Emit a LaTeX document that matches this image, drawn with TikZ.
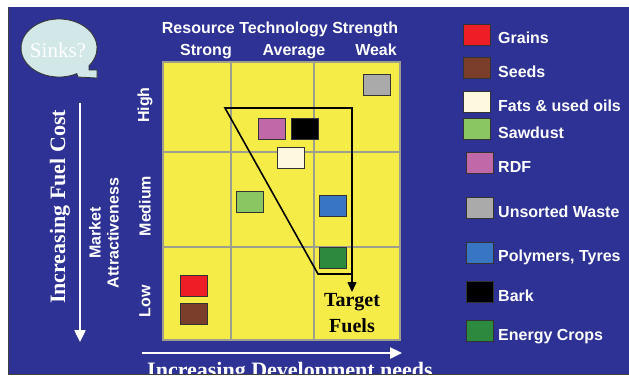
\documentclass[tikz,border=0pt]{standalone}
\usepackage{fontspec}
\setmainfont{Liberation Serif}
\setsansfont{Liberation Sans}
\usetikzlibrary{arrows.meta}

\definecolor{slide}{RGB}{46,50,148}
\definecolor{gridyel}{RGB}{246,236,72}
\definecolor{gridline}{RGB}{158,158,140}
\definecolor{bubble}{RGB}{210,231,231}
\definecolor{grains}{RGB}{237,30,38}
\definecolor{seeds}{RGB}{122,62,42}
\definecolor{fats}{RGB}{253,249,222}
\definecolor{sawdust}{RGB}{138,198,98}
\definecolor{rdf}{RGB}{192,104,168}
\definecolor{waste}{RGB}{170,170,170}
\definecolor{polymers}{RGB}{56,118,196}
\definecolor{bark}{RGB}{0,0,0}
\definecolor{crops}{RGB}{44,138,62}

\begin{document}
\begin{tikzpicture}[x=1pt, y=-1pt,
  fuel/.style={draw=black!80, line width=0.8pt, minimum width=27pt,
    minimum height=21pt, inner sep=0pt},
  wlabel/.style={text=white, inner sep=0pt,
    font=\sffamily\bfseries\fontsize{16}{18}\selectfont},
  wserif/.style={text=white, inner sep=0pt,
    font=\rmfamily\bfseries\fontsize{22}{24}\selectfont}]

\useasboundingbox (0,0) rectangle (629,376);

% slide background
\fill[white] (0,0) rectangle (629,376);
\fill[slide] (8,7) rectangle (629,374);
\draw[black!75, line width=1pt] (8,7) -- (8,374) -- (629,374);

% speech bubble
\draw[black!80, line width=0.8pt, fill=bubble]
  (97,70) -- (97,78) -- (78,77) -- ([shift={(62:38 and 29)}]59,48)
  arc[start angle=62, end angle=398, x radius=38, y radius=29]
  -- (89,70) -- cycle;
\path (58,50) node[text=white, font=\rmfamily\fontsize{21}{24}\selectfont] (sinks) {Sinks?};

% yellow matrix with its grid
\fill[gridyel] (163,62) rectangle (400,340);
\draw[gridline, line width=1.6pt] (163,62) rectangle (400,340);
 \foreach \gx in {231,314}
    \draw[gridline, line width=1.6pt] (\gx,62) -- (\gx,340);
 \foreach \gy in {152,247}
    \draw[gridline, line width=1.6pt] (163,\gy) -- (400,\gy);

% column and row headings
\path
(280,33.5) node[wlabel, anchor=base] (techhead) {Resource Technology Strength}
(206,55) node[wlabel, anchor=base] (strong) {Strong}
(294,55) node[wlabel, anchor=base] (average) {Average}
(376,55) node[wlabel, anchor=base] (weak) {Weak};

\path
(145,105) node[wlabel, rotate=90] (high) {High}
(145,206) node[wlabel, rotate=90] (medium) {Medium}
(145,301) node[wlabel, rotate=90] (low) {Low}
(104,233) node[wlabel, rotate=90, align=center] (market) {Market\\Attractiveness};

% fuels placed in the matrix
\path
(271.5,129) node[fuel, fill=rdf] (inrdf) {}
(304.5,129) node[fuel, fill=bark] (inbark) {}
(290.5,158) node[fuel, fill=fats] (infats) {}
(377,84.5) node[fuel, fill=waste] (inwaste) {}
(249.5,202) node[fuel, fill=sawdust] (insawdust) {}
(332.5,205.5) node[fuel, fill=polymers] (inpolymers) {}
(332.5,258) node[fuel, fill=crops] (incrops) {}
(193.5,285.5) node[fuel, fill=grains] (ingrains) {}
(193.5,313.5) node[fuel, fill=seeds] (inseeds) {};

% target wedge
\coordinate (apex) at (225,108);
\coordinate (topright) at (352,108);
\coordinate (botleft) at (318,274);
\coordinate (botright) at (352,274);
\coordinate (target) at (352,292);
\draw[line width=1.6pt, line join=miter, -{Triangle[width=9pt, length=10pt]}]
  (botright) -- (botleft) -- (apex) -- (topright) -- (target);

\path
(352,306) node[anchor=base, inner sep=0pt, font=\rmfamily\bfseries\fontsize{20}{24}\selectfont] (tgt) {Target}
(352,332) node[anchor=base, inner sep=0pt, font=\rmfamily\bfseries\fontsize{20}{24}\selectfont] (fls) {Fuels};

% the two axis arrows
\coordinate (costtop) at (80,103);
\coordinate (costend) at (80,342);
\draw[white, line width=2.4pt, -{Triangle[width=11pt, length=12pt]}] (costtop) -- (costend);
\path (60,207) node[wserif, rotate=90] (fuelcost) {Increasing Fuel Cost};

\coordinate (devstart) at (142,353);
\coordinate (devend) at (402,353);
\draw[white, line width=2.4pt, -{Triangle[width=11pt, length=12pt]}] (devstart) -- (devend);
\begin{scope}
\clip (8,7) rectangle (629,373);
\path (290,377) node[wserif, anchor=base] (devneeds) {Increasing Development needs};
\end{scope}

% legend
 \foreach \name/\col/\xpos/\ypos/\txt in {
    grains/grains/476.5/34.5/Grains,
    seeds/seeds/476.5/68/Seeds,
    fats/fats/476.5/102/{Fats \& used oils},
    sawdust/sawdust/476.5/129/Sawdust,
    rdf/rdf/479.5/163/RDF,
    waste/waste/479.5/208/Unsorted Waste,
    polymers/polymers/479.5/252.5/{Polymers, Tyres},
    bark/bark/479.5/292/Bark,
    crops/crops/479.5/331/Energy Crops}
  {
    \node[fuel, fill=\col] (leg\name) at (\xpos,\ypos) {};
    \node[wlabel, anchor=base west] (legtxt\name) at (498,\ypos+9) {\txt};
  }

\end{tikzpicture}
\end{document}
